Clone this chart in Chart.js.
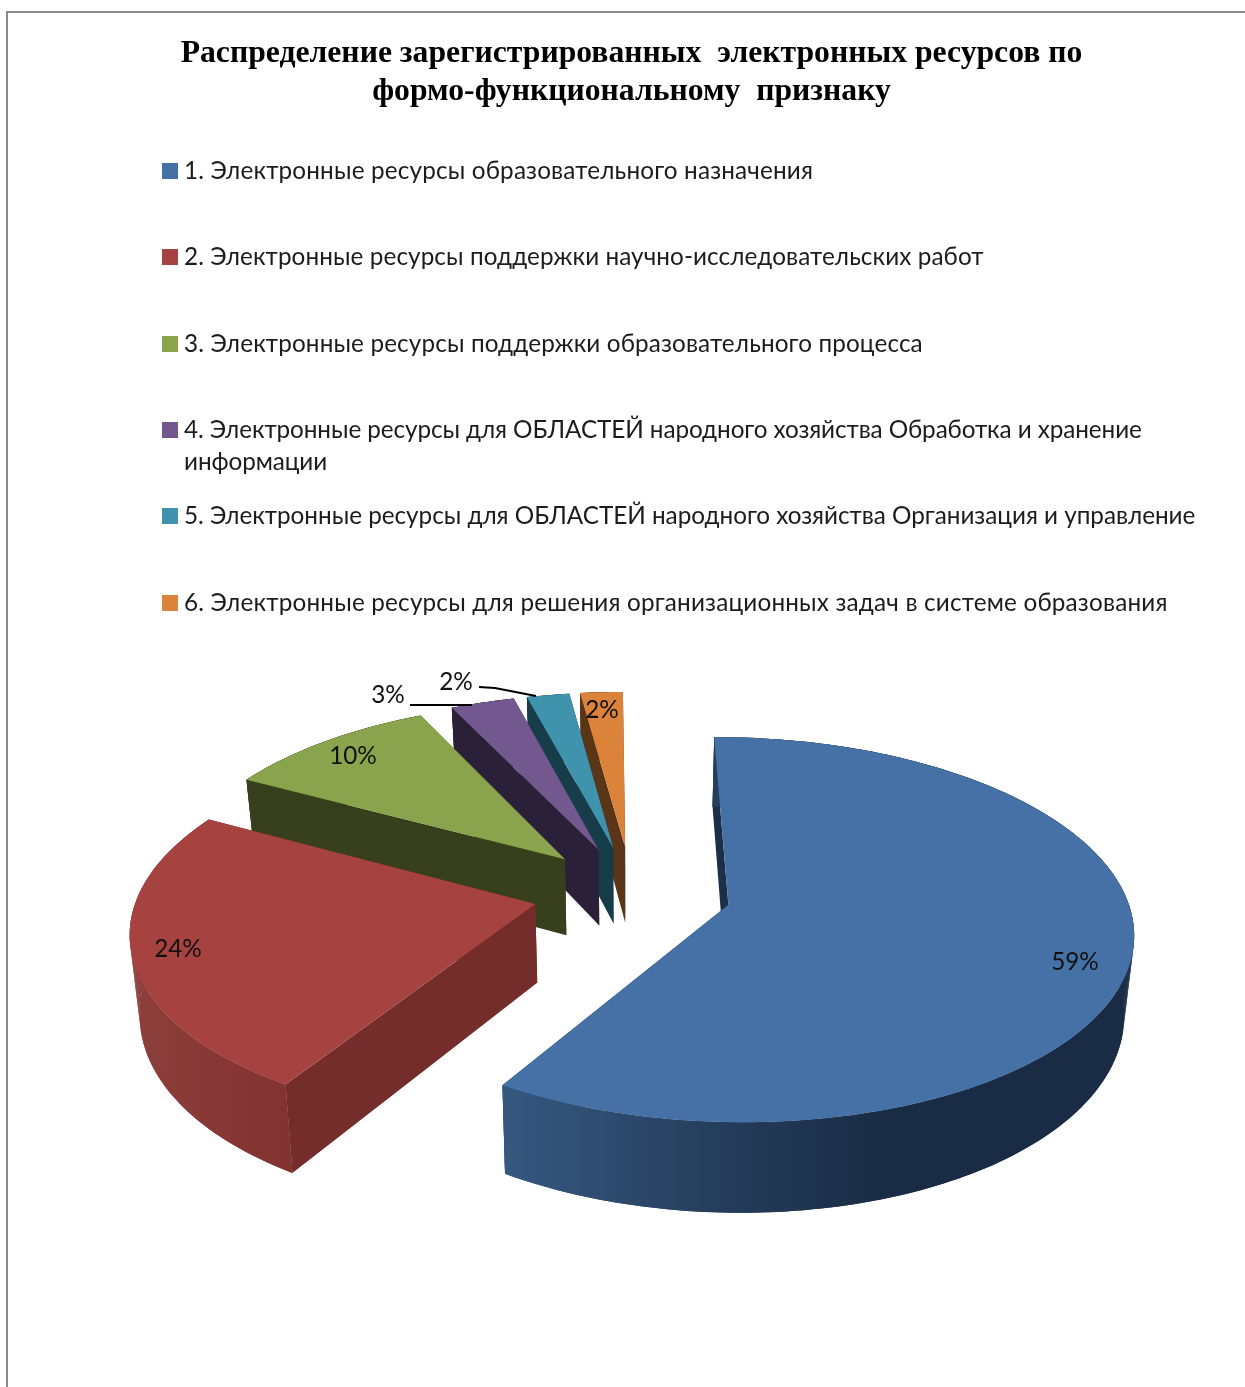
<!DOCTYPE html>
<html>
<head>
<meta charset="utf-8">
<title>Распределение электронных ресурсов</title>
<script src="https://cdn.jsdelivr.net/npm/chart.js@4"></script>
<style>
  html, body { margin: 0; padding: 0; background: #fff; }
  body { width: 1245px; height: 1387px; overflow: hidden; position: relative; }
  #frame { position: absolute; left: 6px; top: 11px; right: 0; bottom: 0;
           border-top: 2px solid #8a8a8a; border-left: 2px solid #8a8a8a; }
  #wrap { position: absolute; left: 0; top: 0; width: 1245px; height: 1387px; }
</style>
</head>
<body>
<div id="frame"></div>
<div id="wrap"><canvas id="chart" width="1245" height="1387"></canvas></div>
<script>
// Chart text and values
const titleLines = [
  'Распределение зарегистрированных  электронных ресурсов по',
  'формо-функциональному  признаку'
];
const categories = [
  '1. Электронные ресурсы образовательного назначения',
  '2. Электронные ресурсы поддержки научно-исследовательских работ',
  '3. Электронные ресурсы поддержки образовательного процесса',
  '4. Электронные ресурсы для ОБЛАСТЕЙ народного хозяйства Обработка и хранение\nинформации',
  '5. Электронные ресурсы для ОБЛАСТЕЙ народного хозяйства Организация и управление',
  '6. Электронные ресурсы для решения организационных задач в системе образования'
];
const shares = [59, 24, 10, 3, 2, 2];

// Face colours of each slice
const topColors  = ['#4671a6', '#a64240', '#89a44d', '#72588f', '#3f93ad', '#db833a'];
const sideColors = ['#1b2f49', '#752d2c', '#373f1d', '#2a2139', '#183d4a', '#5a3517'];
const rimStops = [
  [[510, '#35587f'], [700, '#263f5e'], [880, '#1a2c45']],
  [[135, '#8d3f3c'], [300, '#81312f']],
  [[0, '#373f1d'], [1, '#373f1d']],
  [[0, '#2a2139'], [1, '#2a2139']],
  [[0, '#183d4a'], [1, '#183d4a']],
  [[0, '#5a3517'], [1, '#5a3517']]
];

// Where each percentage sits, and the leader lines of the two small outer labels
const labelSpots = [[1075, 962], [178, 949], [353, 756], [388, 695], [456, 682], [602, 710]];
const leaders = { 3: [[410, 705], [472, 705]], 4: [[479, 687], [495, 688], [536, 696]] };

// Legend rows: centre of the first text line, and tracking per entry
const legendRows = [171, 257, 344, 430, 516, 603];
const legendTrack = [0.16, 0.08, 0.12, -0.09, -0.03, 0.18];

// Perspective of the tilted pie plane
const view = { cx: 632, cy: 892, radius: 397, tiltY: 186, depth: 0.129, thick: 78, taper: 0.02, explode: 0.25 };

function project(u, v, low) {
  const s = 1 / (1 - v * view.depth);
  let x = view.cx + u * view.radius * s;
  let y = view.cy + v * view.tiltY * s;
  if (low) {
    x = view.cx + (x - view.cx) * (1 - view.taper);
    y += view.thick * s;
  }
  return [x, y];
}

function tracePoints(ctx, pts) {
  pts.forEach((p, i) => i ? ctx.lineTo(p[0], p[1]) : ctx.moveTo(p[0], p[1]));
  ctx.closePath();
}

function fillPath(ctx, pts, fill) {
  ctx.beginPath();
  tracePoints(ctx, pts);
  ctx.fillStyle = fill;
  ctx.fill();
}

const pie3d = {
  id: 'pie3d',
  beforeDatasetDraw(chart, args) {
    const ctx = chart.ctx;
    const arcs = args.meta.data;
    // Painted back to front so that nearer slices cover farther walls
    for (let i = arcs.length - 1; i >= 0; i--) {
      const { startAngle, endAngle } = arcs[i].getProps(['startAngle', 'endAngle'], true);
      const mid = (startAngle + endAngle) / 2;
      const ou = Math.cos(mid) * view.explode, ov = Math.sin(mid) * view.explode;
      const rim = [];
      const steps = Math.max(4, Math.ceil((endAngle - startAngle) / 0.02));
      for (let k = 0; k <= steps; k++) {
        const a = startAngle + (endAngle - startAngle) * k / steps;
        rim.push([ou + Math.cos(a), ov + Math.sin(a)]);
      }
      const first = rim[0], last = rim[rim.length - 1];
      const quad = (p) => [project(ou, ov), project(p[0], p[1]), project(p[0], p[1], true), project(ou, ov, true)];
      fillPath(ctx, quad(first), sideColors[i]);
      fillPath(ctx, quad(last), sideColors[i]);

      const stops = rimStops[i];
      const x0 = stops[0][0], x1 = stops[stops.length - 1][0];
      let paint = stops[0][1];
      if (x1 > 1) {
        paint = ctx.createLinearGradient(x0, 0, x1, 0);
        stops.forEach(s => paint.addColorStop((s[0] - x0) / (x1 - x0), s[1]));
      }
      // Curved wall: the rim band first, then strips that close the silhouette at the tangents
      const upper = rim.map(p => project(p[0], p[1]));
      const lower = rim.map(p => project(p[0], p[1], true));
      fillPath(ctx, upper.concat(lower.slice().reverse()), paint);
      for (let k = 0; k < rim.length - 1; k++) {
        fillPath(ctx, [upper[k], upper[k + 1], lower[k + 1], lower[k]], paint);
      }
      fillPath(ctx, [project(ou, ov)].concat(upper), topColors[i]);
    }
    return false;
  },
  afterDatasetsDraw(chart) {
    const ctx = chart.ctx;
    ctx.save();
    ctx.textAlign = 'center';
    ctx.textBaseline = 'middle';
    ctx.font = '24.3px Lato, "Open Sans", sans-serif';
    ctx.fillStyle = '#111';
    shares.forEach((v, i) => ctx.fillText(v + '%', labelSpots[i][0], labelSpots[i][1]));
    ctx.strokeStyle = '#000';
    ctx.lineWidth = 2;
    Object.values(leaders).forEach(line => {
      ctx.beginPath();
      line.forEach((p, i) => i ? ctx.lineTo(p[0], p[1]) : ctx.moveTo(p[0], p[1]));
      ctx.stroke();
    });

    // Legend with a hand-wrapped fourth entry
    ctx.textAlign = 'left';
    categories.forEach((text, i) => {
      ctx.fillStyle = topColors[i];
      ctx.fillRect(162, legendRows[i] - 8, 16, 16);
      ctx.fillStyle = '#1c1c1c';
      ctx.letterSpacing = legendTrack[i] + 'px';
      text.split('\n').forEach((line, n) => ctx.fillText(line, 184, legendRows[i] + n * 32));
    });
    ctx.restore();
  }
};

new Chart(document.getElementById('chart'), {
  type: 'pie',
  data: {
    labels: categories,
    datasets: [{ data: shares, backgroundColor: topColors, borderWidth: 0 }]
  },
  options: {
    responsive: false,
    animation: false,
    events: [],
    rotation: -0.5,
    layout: { padding: { left: 18 } },
    plugins: {
      legend: { display: false },
      tooltip: { enabled: false },
      title: {
        display: true,
        text: titleLines,
        color: '#000',
        font: { family: '"Liberation Serif", serif', size: 31.7, weight: 'bold', lineHeight: 1.2 },
        padding: { top: 35, bottom: 10 }
      }
    }
  },
  plugins: [pie3d]
});
</script>
</body>
</html>
